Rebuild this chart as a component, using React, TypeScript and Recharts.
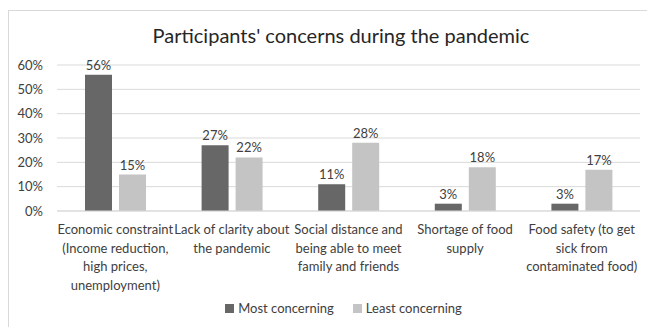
import React from "react";
import { Bar, BarChart, CartesianGrid, LabelList, Legend, XAxis, YAxis } from "recharts";

const categories = [
  ["Economic constraint", "(Income reduction,", "high prices,", "unemployment)"],
  ["Lack of clarity about", "the pandemic"],
  ["Social distance and", "being able to meet", "family and friends"],
  ["Shortage of food", "supply"],
  ["Food safety (to get", "sick from", "contaminated food)"],
];
const mostConcerning = [56, 27, 11, 3, 3];
const leastConcerning = [15, 22, 28, 18, 17];
const yTicks = [0, 10, 20, 30, 40, 50, 60];

const MOST_COLOR = "#676767";
const LEAST_COLOR = "#c4c4c4";

const data = categories.map((lines, i) => ({
  name: lines.join(" "),
  most: mostConcerning[i],
  least: leastConcerning[i],
}));

const FONT = "Lato, 'Noto Sans', sans-serif";
const TEXT = "#404040";

function CategoryTick({ x, y, payload, index }: any) {
  const lines = categories[index] ?? [payload.value];
  return (
    <text x={x} y={y + 15} textAnchor="middle" fill={TEXT} fontSize={13} fontFamily={FONT}>
      {lines.map((line: string, i: number) => (
        <tspan key={i} x={x} dy={i === 0 ? 0 : 18.5}>
          {line}
        </tspan>
      ))}
    </text>
  );
}

function LegendBox() {
  const items = [
    { label: "Most concerning", color: MOST_COLOR },
    { label: "Least concerning", color: LEAST_COLOR },
  ];
  return (
    <div
      style={{
        display: "flex",
        justifyContent: "center",
        gap: 19,
        paddingLeft: 38,
        fontSize: 13,
        fontFamily: FONT,
        color: TEXT,
      }}
    >
      {items.map((it) => (
        <span key={it.label} style={{ display: "flex", alignItems: "center", gap: 4 }}>
          <span style={{ width: 9, height: 9, background: it.color, display: "inline-block" }} />
          {it.label}
        </span>
      ))}
    </div>
  );
}

export default function App() {
  return (
    <div
      style={{
        position: "relative",
        width: 646,
        height: 316,
        marginTop: 2,
        borderLeft: "1px solid #d9d9d9",
        borderTop: "1px solid #d9d9d9",
        fontFamily: FONT,
      }}
    >
      <div
        style={{
          position: "absolute",
          top: 12,
          left: 0,
          width: 664,
          textAlign: "center",
          fontSize: 20,
          color: "#262626",
        }}
      >
        Participants' concerns during the pandemic
      </div>
      <BarChart
        width={646}
        height={316}
        data={data}
        margin={{ top: 54, right: 15, bottom: 11, left: 0 }}
        barSize={27}
        barGap={7}
      >
        <CartesianGrid vertical={false} stroke="#d9d9d9" />
        <XAxis
          dataKey="name"
          tick={<CategoryTick />}
          tickLine={false}
          axisLine={{ stroke: "#d9d9d9" }}
          height={89}
          interval={0}
        />
        <YAxis
          domain={[0, 60]}
          ticks={yTicks}
          tickFormatter={(v: number) => `${v}%`}
          tick={{ fill: TEXT, fontSize: 13, fontFamily: FONT }}
          tickLine={false}
          axisLine={false}
          tickSize={0}
          tickMargin={14}
          width={48}
        />
        <Legend verticalAlign="bottom" content={<LegendBox />} />
        <Bar dataKey="most" name="Most concerning" fill={MOST_COLOR} isAnimationActive={false}>
          <LabelList
            dataKey="most"
            position="top"
            formatter={(v: number) => `${v}%`}
            fill={TEXT}
            fontSize={13}
            fontFamily={FONT}
          />
        </Bar>
        <Bar dataKey="least" name="Least concerning" fill={LEAST_COLOR} isAnimationActive={false}>
          <LabelList
            dataKey="least"
            position="top"
            formatter={(v: number) => `${v}%`}
            fill={TEXT}
            fontSize={13}
            fontFamily={FONT}
          />
        </Bar>
      </BarChart>
    </div>
  );
}
